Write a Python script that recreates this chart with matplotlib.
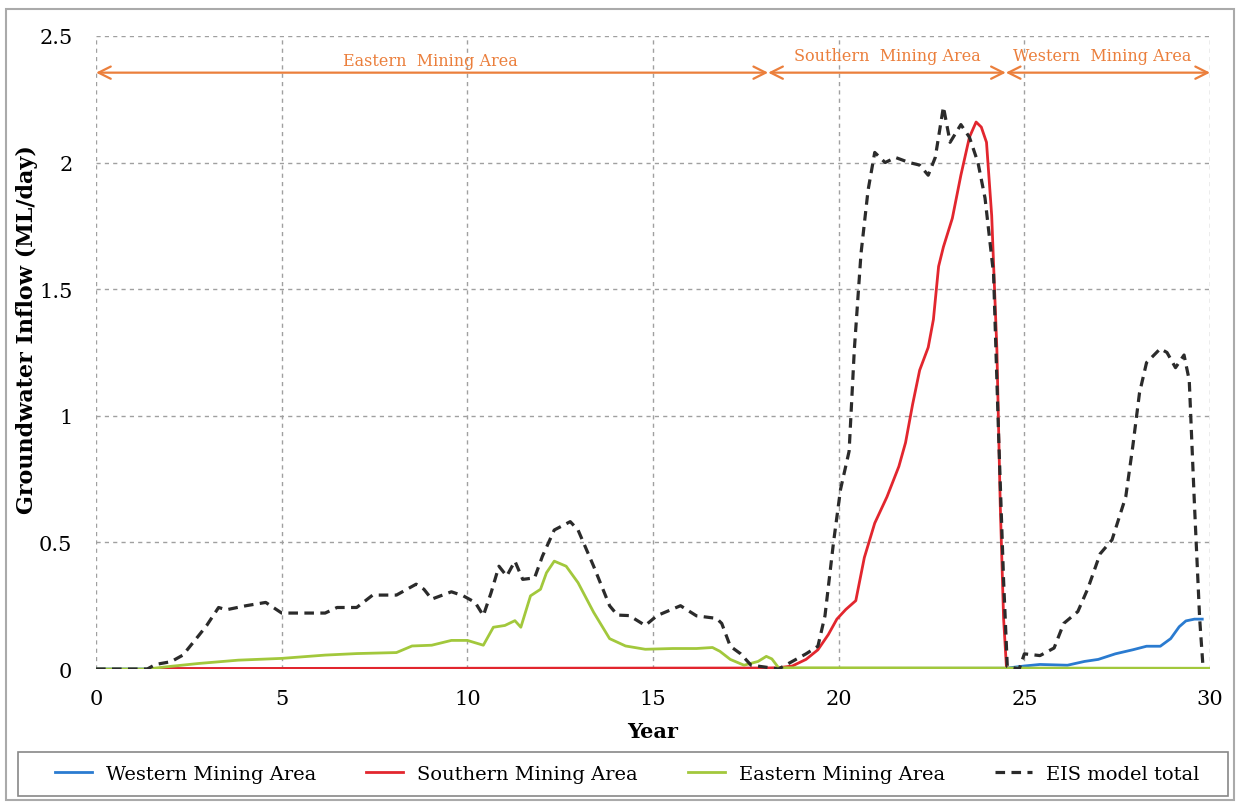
import numpy as np
import matplotlib.pyplot as plt
from matplotlib.patches import Rectangle

# Datos (ano, ML/dia)
eis_year = [0, 1.38, 1.6, 2.02, 2.34, 2.77, 2.98, 3.3, 3.51, 4.04, 4.57, 5.0, 6.17, 6.49, 7.02,
            7.45, 8.09, 8.62, 8.83, 9.04, 9.57, 9.89, 10.21, 10.43, 10.64, 10.85, 11.06, 11.28,
            11.49, 11.81, 12.02, 12.34, 12.77, 12.98, 13.4, 13.83, 14.04, 14.36, 14.79, 15.11,
            15.74, 16.17, 16.71, 16.85, 17.08, 17.36, 17.64, 18.0, 18.38, 18.75, 19.12, 19.44,
            19.63, 19.86, 20.05, 20.28, 20.42, 20.6, 20.79, 20.97, 21.25, 21.53, 21.9, 22.18,
            22.41, 22.6, 22.82, 23.0, 23.29, 23.52, 23.75, 23.94, 24.17, 24.3, 24.44, 24.54,
            24.86, 25.0, 25.42, 25.8, 26.06, 26.44, 26.71, 27.04, 27.36, 27.73, 27.92, 28.1,
            28.29, 28.66, 28.84, 29.07, 29.3, 29.44, 29.58, 29.72, 29.81]
eis_val = [0, 0, 0.018, 0.029, 0.055, 0.133, 0.172, 0.243, 0.234, 0.25, 0.263, 0.221, 0.221,
           0.243, 0.243, 0.292, 0.292, 0.335, 0.315, 0.276, 0.305, 0.289, 0.263, 0.211, 0.302,
           0.406, 0.367, 0.426, 0.354, 0.36, 0.445, 0.549, 0.582, 0.549, 0.406, 0.25, 0.213,
           0.211, 0.172, 0.211, 0.25, 0.21, 0.2, 0.18, 0.09, 0.06, 0.015, 0.008, 0, 0.03, 0.06,
           0.09, 0.21, 0.5, 0.71, 0.86, 1.26, 1.64, 1.89, 2.04, 2.0, 2.02, 2.0, 1.99, 1.95, 2.02,
           2.22, 2.08, 2.15, 2.1, 2.0, 1.86, 1.56, 0.95, 0.35, 0.01, 0, 0.06, 0.053, 0.083, 0.18,
           0.227, 0.318, 0.455, 0.51, 0.68, 0.88, 1.09, 1.21, 1.265, 1.25, 1.19, 1.24, 1.14,
           0.65, 0.2, 0.01]

south_year = [1.5, 18.0, 18.38, 18.75, 19.12, 19.44, 19.72, 19.95, 20.19, 20.46, 20.69, 20.97,
              21.3, 21.62, 21.8, 21.99, 22.18, 22.41, 22.55, 22.69, 22.82, 23.06, 23.29, 23.52,
              23.7, 23.84, 23.98, 24.12, 24.26, 24.35, 24.44, 24.52]
south_val = [0.002, 0.004, 0.005, 0.012, 0.038, 0.076, 0.136, 0.197, 0.235, 0.27, 0.44, 0.576,
             0.68, 0.80, 0.894, 1.045, 1.18, 1.27, 1.38, 1.59, 1.667, 1.78, 1.95, 2.1, 2.16, 2.14,
             2.08, 1.79, 1.26, 0.65, 0.2, 0.0]

west_year = [0, 24.5, 25.0, 25.42, 26.16, 26.62, 26.99, 27.45, 27.92, 28.29, 28.66, 28.94,
             29.17, 29.35, 29.58, 29.79]
west_val = [0, 0.003, 0.012, 0.018, 0.015, 0.03, 0.038, 0.06, 0.076, 0.09, 0.09, 0.12, 0.167,
            0.19, 0.197, 0.197]

east_year = [0, 1.38, 1.91, 2.77, 3.83, 5.0, 6.17, 7.02, 8.09, 8.51, 9.04, 9.57, 10.0, 10.43,
             10.7, 11.01, 11.28, 11.44, 11.7, 11.97, 12.13, 12.34, 12.66, 12.98, 13.4, 13.83,
             14.26, 14.79, 15.53, 16.17, 16.6, 16.8, 17.08, 17.45, 17.83, 18.05, 18.2, 18.38, 30]
east_val = [0, 0, 0.009, 0.022, 0.035, 0.042, 0.055, 0.061, 0.065, 0.091, 0.094, 0.113, 0.113,
            0.094, 0.165, 0.172, 0.191, 0.165, 0.289, 0.315, 0.38, 0.426, 0.406, 0.341, 0.224,
            0.12, 0.091, 0.078, 0.081, 0.081, 0.085, 0.07, 0.038, 0.015, 0.03, 0.05, 0.04,
            0.005, 0.003]

# Zonas de mineria (limites en anos) y etiquetas
zone_edges = [0, 18.1, 24.5, 30]
zone_names = ["Eastern  Mining Area", "Southern  Mining Area", "Western  Mining Area"]
zone_text_x = [9.0, 21.3, 27.1]
zone_text_y = [2.403, 2.423, 2.423]

plt.rcParams['font.family'] = ['DejaVu Serif']
orange = '#EB7F3C'

fig = plt.figure(figsize=(12.36, 8.03), dpi=100)
ax = fig.add_axes([0.0777, 0.1656, 0.9013, 0.7884])

ax.plot(west_year, west_val, color='#2A7BD0', lw=2, label='Western Mining Area')
ax.plot(south_year, south_val, color='#E2262E', lw=2, label='Southern Mining Area')
ax.plot(east_year, east_val, color='#A2C83C', lw=2, label='Eastern Mining Area')
ax.plot(eis_year, eis_val, color='#2B2B2B', lw=2.3, ls=(0, (3, 2)), label='EIS model total')

# Flechas de las zonas
for i in range(3):
    ax.annotate('', xy=(zone_edges[i], 2.355), xytext=(zone_edges[i + 1], 2.355),
                arrowprops=dict(arrowstyle='<->', color=orange, lw=1.6,
                                mutation_scale=22, shrinkA=0, shrinkB=0))
    ax.text(zone_text_x[i], zone_text_y[i], zone_names[i], color=orange, fontsize=11.5,
            ha='center', va='center')

ax.set_xlim(0, 30)
ax.set_ylim(0, 2.5)
ax.set_xticks(np.arange(0, 31, 5))
ax.set_yticks([0, 0.5, 1, 1.5, 2, 2.5])
ax.set_yticklabels(['0', '0.5', '1', '1.5', '2', '2.5'])
ax.tick_params(length=0, labelsize=15)
ax.tick_params(axis='x', pad=14.5)
ax.tick_params(axis='y', pad=17)
ax.grid(True, color='#A0A0A0', ls=(0, (3, 3)), lw=1)
for s in ax.spines.values():
    s.set_visible(False)
ax.set_xlabel('Year', fontsize=15, fontweight='bold', labelpad=9)
ax.set_ylabel('Groundwater Inflow (ML/day)', fontsize=16, fontweight='bold')
ax.yaxis.set_label_coords(-0.052, 0.537)

leg = fig.legend(loc='center left', bbox_to_anchor=(0.030, 0.0349), ncol=4, fontsize=14,
                 frameon=False, handlelength=1.9, handletextpad=0.75, columnspacing=2.55)

# Marco de la leyenda y borde exterior
fig.patches.append(Rectangle((18 / 1236, 1 - 797 / 803), 1210 / 1236, 44 / 803,
                             transform=fig.transFigure, fill=False,
                             edgecolor='#888888', lw=1.2))
fig.patches.append(Rectangle((0.005, 0.002), 0.993, 0.985, transform=fig.transFigure,
                             fill=False, edgecolor='#AAAAAA', lw=1.5))

plt.savefig('out.png')
